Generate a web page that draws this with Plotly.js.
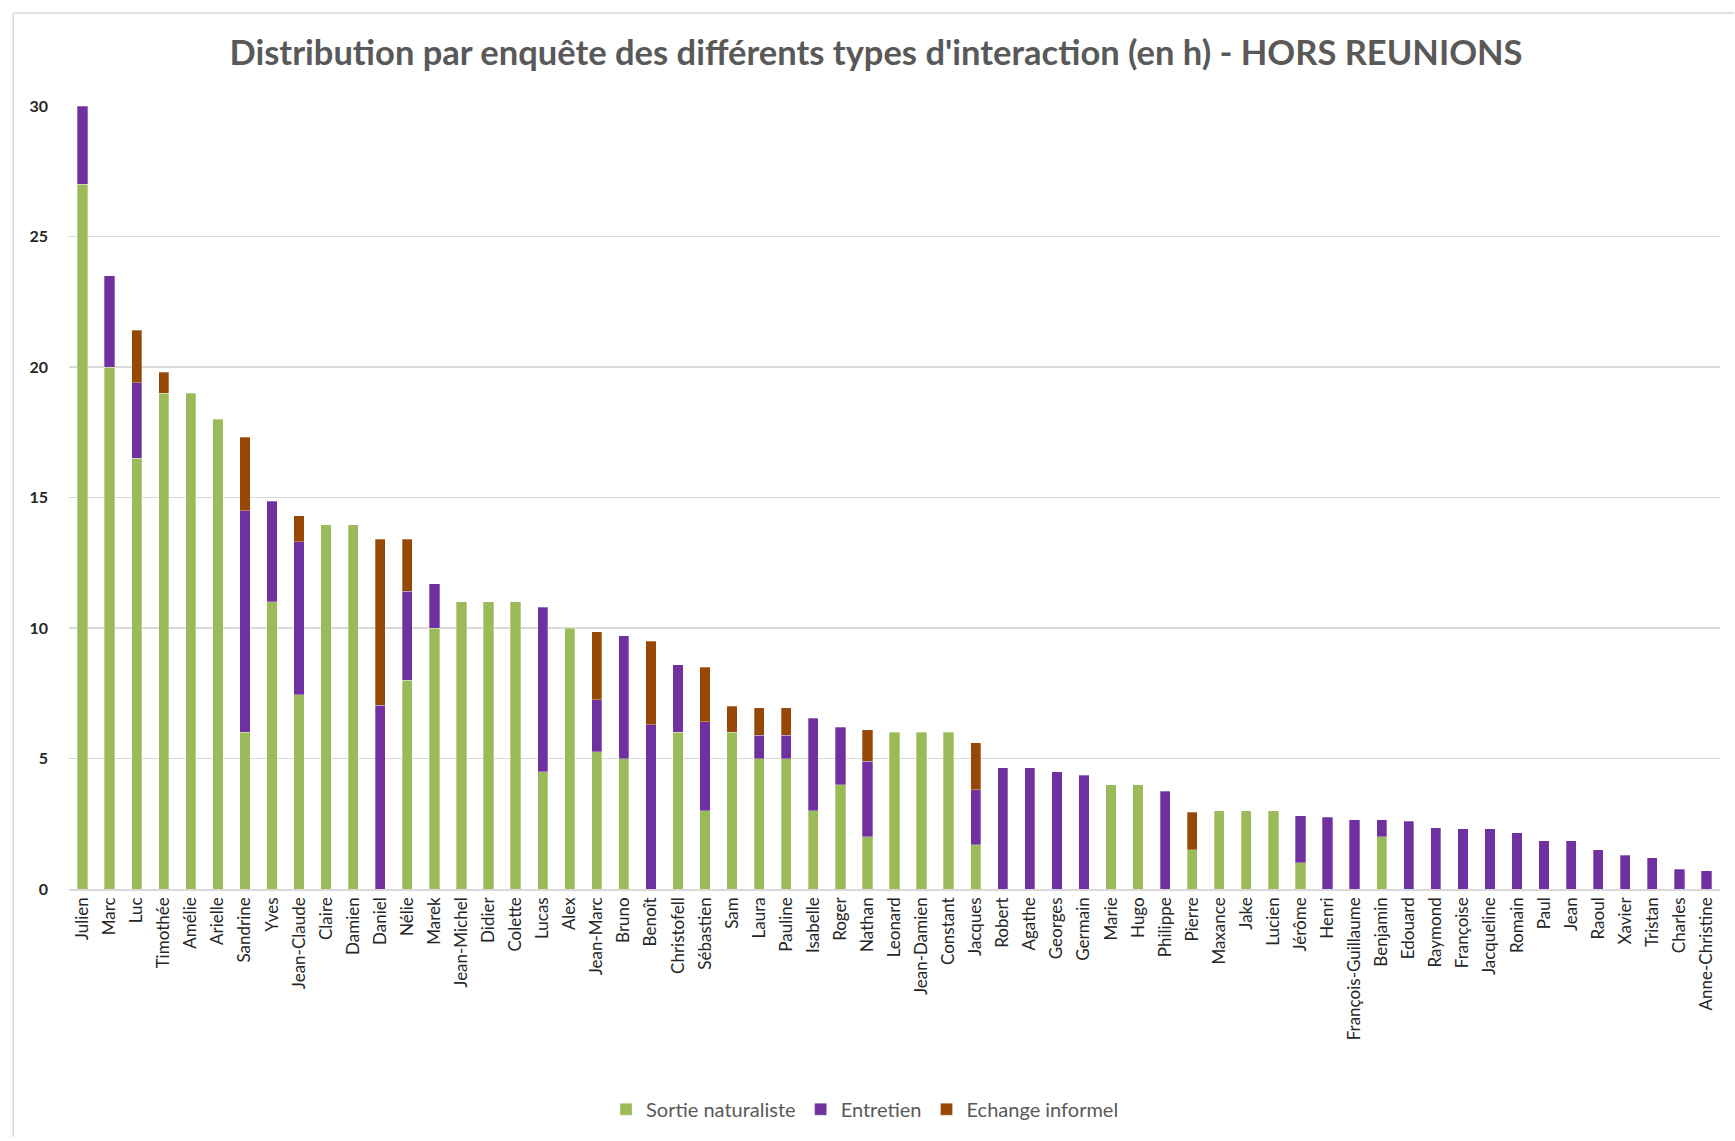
<!DOCTYPE html>
<html>
<head>
<meta charset="utf-8">
<script src="https://cdn.plot.ly/plotly-3.0.1.min.js"></script>
<style>html,body{margin:0;padding:0;background:#fff;}#chart{width:1735px;height:1141px;}</style>
</head>
<body>
<div id="chart"></div>
<script>
const chartTitle = "Distribution par enquête des différents types d'interaction (en h) - HORS REUNIONS";
const seriesNames = ["Sortie naturaliste", "Entretien", "Echange informel"];
const personnes = ["Julien","Marc","Luc","Timothée","Amélie","Arielle","Sandrine","Yves","Jean-Claude","Claire","Damien","Daniel","Nélie","Marek","Jean-Michel","Didier","Colette","Lucas","Alex","Jean-Marc","Bruno","Benoît","Christofell","Sébastien","Sam","Laura","Pauline","Isabelle","Roger","Nathan","Leonard","Jean-Damien","Constant","Jacques","Robert","Agathe","Georges","Germain","Marie","Hugo","Philippe","Pierre","Maxance","Jake","Lucien","Jérôme","Henri","François-Guillaume","Benjamin","Edouard","Raymond","Françoise","Jacqueline","Romain","Paul","Jean","Raoul","Xavier","Tristan","Charles","Anne-Christine"];
const sortieNaturaliste = [27,20,16.5,19,19,18,6,11,7.45,13.95,13.95,null,8,10,11,11,11,4.5,10,5.25,5,null,6,3,6,5,5,3,4,2,6,6,6,1.7,null,null,null,null,4,4,null,1.5,3,3,3,1,null,null,2,null,null,null,null,null,null,null,null,null,null,null,null];
const entretien = [3,3.5,2.9,null,null,null,8.5,3.85,5.85,null,null,7.05,3.4,1.7,null,null,null,6.3,null,2,4.7,6.3,2.6,3.4,null,0.9,0.9,3.55,2.2,2.9,null,null,null,2.1,4.65,4.65,4.5,4.35,null,null,3.75,null,null,null,null,1.8,2.75,2.65,0.65,2.6,2.35,2.3,2.3,2.15,1.85,1.85,1.5,1.3,1.2,0.75,0.7];
const echangeInformel = [null,null,2,0.8,null,null,2.8,null,1,null,null,6.35,2,null,null,null,null,null,null,2.6,null,3.2,null,2.1,1,1.05,1.05,null,null,1.2,null,null,null,1.8,null,null,null,null,null,null,null,1.45,null,null,null,null,null,null,null,null,null,null,null,null,null,null,null,null,null,null,null];
const yTicks = [0,5,10,15,20,25,30];

const colors = ["#9BBB59", "#7030A0", "#974706"];
const values = [sortieNaturaliste, entretien, echangeInformel];
const traces = values.map((v, i) => ({
  type: "bar",
  name: seriesNames[i],
  x: personnes,
  y: v,
  marker: {color: colors[i], line: {color: "rgba(255,255,255,0.6)", width: 0.5}},
  hoverinfo: "x+y+name"
}));

const fontFam = "Lato, 'Open Sans', sans-serif";
const layout = {
  width: 1735, height: 1141,
  paper_bgcolor: "#ffffff", plot_bgcolor: "#ffffff",
  barmode: "stack",
  bargap: 0.62,
  margin: {l: 68.5, r: 14.5, t: 106, b: 249},
  font: {family: fontFam, color: "#595959"},
  title: {text: "<b>" + chartTitle + "</b>", font: {family: fontFam, size: 34.5, color: "#595959"}, x: (876 - 68.5) / 1652, xref: "paper", xanchor: "center", y: 1 - 53/1141, yanchor: "middle"},
  showlegend: true,
  legend: {orientation: "h", x: (865 - 68.5) / 1652, xanchor: "center", y: (892 - 1113) / 786, yanchor: "middle", itemwidth: 30, font: {family: fontFam, size: 20, color: "#595959"}, traceorder: "normal", itemclick: false},
  xaxis: {
    type: "category", tickangle: -90, showgrid: false,
    showline: true, linecolor: "#D9D9D9", linewidth: 1.5,
    ticks: "", tickfont: {family: fontFam, size: 17, color: "#262626"},
    automargin: false, fixedrange: true
  },
  yaxis: {
    range: [0, 30], tickvals: yTicks, ticktext: yTicks.map(String),
    showgrid: true, gridcolor: "#D9D9D9", gridwidth: 1.2,
    zeroline: false, showline: false, ticks: "",
    tickfont: {family: fontFam, size: 16, color: "#262626", weight: "bold"},
    ticklabelstandoff: 20,
    automargin: false, fixedrange: true
  },
  shapes: [
    {type: "line", xref: "paper", yref: "paper", x0: (12.7 - 68.5) / 1652, x1: (1735 - 68.5) / 1652, y0: (892 - 12.7) / 786, y1: (892 - 12.7) / 786, line: {color: "#D9D9D9", width: 1.5}},
    {type: "line", xref: "paper", yref: "paper", x0: (12.7 - 68.5) / 1652, x1: (12.7 - 68.5) / 1652, y0: (892 - 12.7) / 786, y1: (892 - 1141) / 786, line: {color: "#D9D9D9", width: 1.5}}
  ]
};

Plotly.newPlot("chart", traces, layout, {displayModeBar: false, staticPlot: true});
</script>
</body>
</html>
